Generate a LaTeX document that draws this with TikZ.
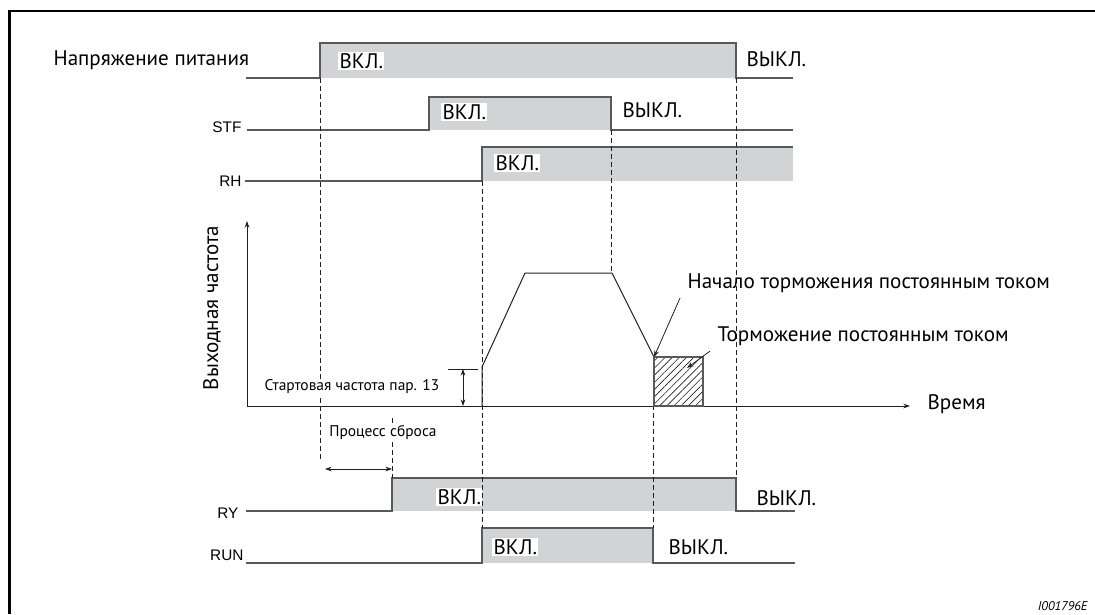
\documentclass[tikz,border=0pt]{standalone}
\usepackage{fontspec}
\setmainfont{PT Sans}
\newfontfamily\arialfont{Liberation Sans}
\usetikzlibrary{arrows.meta,patterns.meta}
\definecolor{sigGray}{HTML}{D1D3D4}
\definecolor{lineGray}{HTML}{58595B}
\definecolor{ink}{HTML}{231F20}
\begin{document}
\begin{tikzpicture}[x=0.75pt,y=-0.75pt,
    sigline/.style={lineGray,line width=0.9pt},
    guide/.style={ink,line width=0.5pt,dash pattern=on 3.5pt off 2.5pt},
    state/.style={font=\fontsize{15.8}{18}\selectfont,inner sep=1pt,anchor=west},
    onstate/.style={state,fill=white},
    signame/.style={font=\arialfont\fontsize{11.5}{13}\selectfont,inner sep=1pt,anchor=east},
    note/.style={font=\fontsize{11.6}{13}\selectfont,inner sep=1pt,fill=white},
    tip/.style={-{Stealth[length=5pt,width=3.5pt]}},
    tips/.style={{Stealth[length=5pt,width=3.5pt]}-{Stealth[length=5pt,width=3.5pt]}}]
    \useasboundingbox (0,0) rectangle (1095,614);
    \draw[black,line width=1.7pt] (9.5,614)--(9.5,11.3)--(1095,11.3);

    % signal bands
    \fill[sigGray] (320,43) rectangle (736,78);
    \fill[sigGray] (429,97) rectangle (611,130);
    \fill[sigGray] (482,147) rectangle (793,181);
    \fill[sigGray] (392,478) rectangle (736,511);
    \fill[sigGray] (482,528) rectangle (653,563);
    \draw[sigline] (246,78)--(320,78)--(320,43)--(736,43)--(736,78)--(793,78);
    \draw[sigline] (247,130)--(429,130)--(429,97)--(611,97)--(611,130)--(793,130);
    \draw[sigline] (245,181)--(482,181)--(482,147)--(793,147);
    \draw[sigline] (246,511)--(392,511)--(392,478)--(736,478)--(736,511)--(795,511);
    \draw[sigline] (246,563)--(482,563)--(482,528)--(653,528)--(653,563)--(795,563);

    % guides
    \draw[guide] (320,78)--(320,460);
    \draw[guide] (392,418)--(392,478);
    \draw[guide] (482,181)--(482,528);
    \draw[guide] (611,130)--(611,273);
    \draw[guide] (653,357)--(653,528);
    \draw[guide] (736,78)--(736,478);

    % output frequency
    \draw[ink,line width=0.75pt,tip] (247,406)--(247,221);
    \draw[ink,line width=0.75pt,tip] (247,406)--(910,406);
    \draw[ink,line width=0.75pt] (482,406)--(482,367)--(525,273)--(612,273)--(654,357);
    \draw[lineGray,line width=0.8pt,pattern={Lines[angle=45,distance=3.8pt,line width=0.45pt]},pattern color=ink] (654,357) rectangle (703,406);
    \coordinate (dcstart) at (654,357);
    \coordinate (dczone) at (687,368);
    \draw[ink,line width=0.6pt] (448,369)--(478,369);
    \draw[ink,line width=0.6pt,tips] (463,369)--(463,406);
    \draw[ink,line width=0.6pt,tips] (325,469)--(392,469);

    % labels
    \node[state] (supply) at (52,60) {Напряжение питания};
    \node[signame] (stf) at (243,127) {STF};
    \node[signame] (rh) at (243,181) {RH};
    \node[signame] (ry) at (240,513) {RY};
    \node[signame] (run) at (245,555) {RUN};
    \node[onstate] (supplyon) at (338,61) {ВКЛ.};
    \node[state] (supplyoff) at (745,59) {ВЫКЛ.};
    \node[onstate] (stfon) at (441,112) {ВКЛ.};
    \node[state] (stfoff) at (621,110) {ВЫКЛ.};
    \node[onstate] (rhon) at (494,163) {ВКЛ.};
    \node[onstate] (ryon) at (436,497) {ВКЛ.};
    \node[state] (ryoff) at (755,498) {ВЫКЛ.};
    \node[onstate] (runon) at (492,547) {ВКЛ.};
    \node[state] (runoff) at (667,547) {ВЫКЛ.};
    \node[state,anchor=center,rotate=90] (fout) at (212,308) {Выходная частота};
    \node[note] (fstart) at (352,387) {Стартовая частота пар. 13};
    \node[note] (reset) at (383,432) {Процесс сброса};
    \node[state] (time) at (926,404) {Время};
    \node[state] (dcbegin) at (686,283) {Начало торможения постоянным током};
    \node[state] (dcbrake) at (716,336) {Торможение постоянным током};
    \node[font=\itshape\fontsize{9.5}{11}\selectfont,anchor=east,inner sep=1pt] (docid) at (1089,606) {I001796E};
    \draw[ink,line width=0.6pt,tip] (dcbegin.south west)++(-6,4)--(dcstart);
    \draw[ink,line width=0.6pt,tip] (dcbrake.south west)++(-6,4)--(dczone);
\end{tikzpicture}
\end{document}
